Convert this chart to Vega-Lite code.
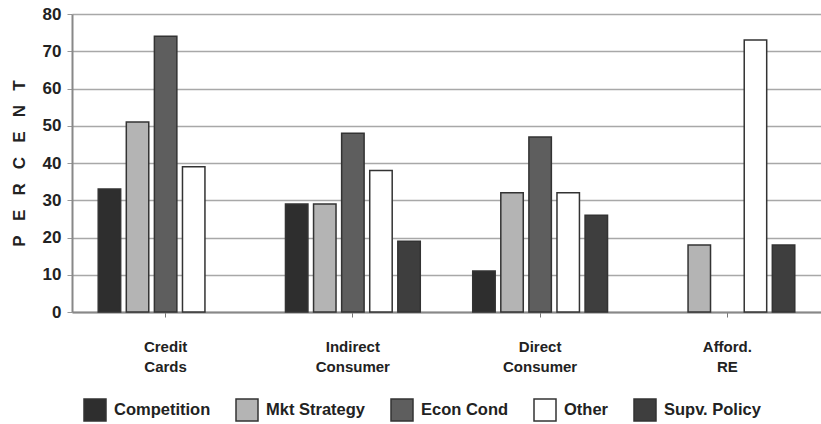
{
  "$schema": "https://vega.github.io/schema/vega-lite/v6.json",
  "width": 749,
  "height": 298,
  "autosize": {"type": "none"},
  "padding": {"left": 72, "top": 14, "right": 0, "bottom": 112},
  "background": "white",
  "data": {
    "values": [
      {"category": "Credit Cards", "series": "Competition", "value": 33},
      {"category": "Credit Cards", "series": "Mkt Strategy", "value": 51},
      {"category": "Credit Cards", "series": "Econ Cond", "value": 74},
      {"category": "Credit Cards", "series": "Other", "value": 39},
      {"category": "Indirect Consumer", "series": "Competition", "value": 29},
      {"category": "Indirect Consumer", "series": "Mkt Strategy", "value": 29},
      {"category": "Indirect Consumer", "series": "Econ Cond", "value": 48},
      {"category": "Indirect Consumer", "series": "Other", "value": 38},
      {"category": "Indirect Consumer", "series": "Supv. Policy", "value": 19},
      {"category": "Direct Consumer", "series": "Competition", "value": 11},
      {"category": "Direct Consumer", "series": "Mkt Strategy", "value": 32},
      {"category": "Direct Consumer", "series": "Econ Cond", "value": 47},
      {"category": "Direct Consumer", "series": "Other", "value": 32},
      {"category": "Direct Consumer", "series": "Supv. Policy", "value": 26},
      {"category": "Afford. RE", "series": "Mkt Strategy", "value": 18},
      {"category": "Afford. RE", "series": "Other", "value": 73},
      {"category": "Afford. RE", "series": "Supv. Policy", "value": 18}
    ]
  },
  "mark": {"type": "bar", "stroke": "#333333", "strokeWidth": 1.5},
  "encoding": {
    "x": {
      "field": "category",
      "type": "nominal",
      "sort": null,
      "scale": {"paddingInner": 0.25, "paddingOuter": 0.125},
      "axis": {
        "title": null,
        "labelAngle": 0,
        "labelExpr": "split(datum.label, ' ')",
        "labelFont": "Liberation Sans",
        "labelFontWeight": "bold",
        "labelFontSize": 15,
        "labelColor": "#222222",
        "labelLineHeight": 20,
        "labelPadding": 22,
        "labelBaseline": "top",
        "ticks": true,
        "tickSize": 5,
        "tickColor": "#777777",
        "domainColor": "#888888",
        "domainWidth": 2,
        "grid": false
      }
    },
    "xOffset": {
      "field": "series",
      "type": "nominal",
      "scale": {
        "domain": ["Competition", "Mkt Strategy", "Econ Cond", "Other", "Supv. Policy"],
        "paddingInner": 0.2,
        "paddingOuter": 0.1
      }
    },
    "y": {
      "field": "value",
      "type": "quantitative",
      "scale": {"domain": [0, 80], "nice": false},
      "axis": {
        "title": "P\u00a0\u00a0\u00a0E\u00a0\u00a0\u00a0R\u00a0\u00a0\u00a0C\u00a0\u00a0\u00a0E\u00a0\u00a0\u00a0N\u00a0\u00a0\u00a0T",
        "titleFont": "Liberation Sans",
        "titleFontWeight": "bold",
        "titleFontSize": 17,
        "titleColor": "#222222",
        "titlePadding": 14,
        "values": [0, 10, 20, 30, 40, 50, 60, 70, 80],
        "labelFont": "Liberation Sans",
        "labelFontWeight": "bold",
        "labelFontSize": 17,
        "labelColor": "#222222",
        "labelPadding": 6,
        "tickSize": 5,
        "tickColor": "#999999",
        "domainColor": "#888888",
        "domainWidth": 2,
        "grid": true,
        "gridColor": "#a8a8a8",
        "gridWidth": 1.6
      }
    },
    "color": {
      "field": "series",
      "type": "nominal",
      "scale": {
        "domain": ["Competition", "Mkt Strategy", "Econ Cond", "Other", "Supv. Policy"],
        "range": ["#2e2e2e", "#b4b4b4", "#5e5e5e", "#ffffff", "#3e3e3e"]
      },
      "legend": {
        "title": null,
        "orient": "none",
        "legendX": 11,
        "legendY": 384,
        "direction": "horizontal",
        "symbolType": "square",
        "symbolSize": 484,
        "symbolStrokeColor": "#333333",
        "symbolStrokeWidth": 1.5,
        "symbolOpacity": 1,
        "labelFont": "Liberation Sans",
        "labelFontWeight": "bold",
        "labelFontSize": 16.5,
        "labelColor": "#222222",
        "labelOffset": 7,
        "columnPadding": 22,
        "padding": 0
      }
    }
  },
  "config": {
    "view": {"stroke": null}
  }
}
